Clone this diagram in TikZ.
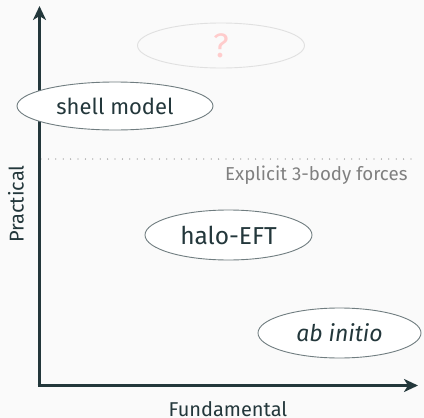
\documentclass[tikz,border=0pt]{standalone}
\usepackage{fontspec}
\setmainfont{Fira Sans}
\usetikzlibrary{arrows.meta,shapes.geometric}
\definecolor{mDarkTeal}{HTML}{23373B}
\definecolor{mBg}{HTML}{FAFAFA}
\begin{document}
\begin{tikzpicture}[x=1pt,y=-1pt,
  axis/.style={line width=3.6pt,draw=mDarkTeal,-{Stealth[length=14pt,width=13pt,inset=4pt]},line join=miter},
  blob/.style={ellipse,draw=mDarkTeal!65,line width=0.9pt,fill=white,text=mDarkTeal,inner sep=0pt,font=\fontsize{23}{27}\selectfont},
  ghost/.style={ellipse,draw=black!12,line width=0.9pt,text=red!20,inner sep=0pt,font=\fontsize{34}{38}\selectfont},
  lbl/.style={text=mDarkTeal,font=\fontsize{20}{24}\selectfont},
  note/.style={text=black!50,font=\fontsize{18.7}{22}\selectfont}]
\fill[mBg] (0,0) rectangle (424,418);
\useasboundingbox (0,0) rectangle (424,418);
\coordinate (o) at (39.5,385.5);
\coordinate (ytop) at (39.5,6);
\coordinate (xend) at (418,385.5);
\coordinate (dl) at (41,159);
\coordinate (dr) at (412,159);
\draw[dotted,line width=1.3pt,black!45,line cap=round,dash pattern=on 0pt off 7.4pt] (dl) -- (dr);
\node[note,anchor=base east] (n3) at (411,180) {Explicit 3-body forces};
\draw[axis] (o) -- (ytop);
\draw[axis] ([xshift=-1.8pt]o) -- (xend);
\node[ghost,minimum width=167pt,minimum height=45pt] (q) at (221,45.5) {?};
\node[blob,minimum width=196pt,minimum height=48pt,font=\fontsize{22}{27}\selectfont] (sm) at (115,106) {shell model};
\node[blob,minimum width=167pt,minimum height=50pt,font=\fontsize{24.5}{29}\selectfont] (he) at (228.5,235) {halo-EFT};
\node[blob,minimum width=163pt,minimum height=50pt,font=\fontsize{23}{27}\selectfont] (ai) at (339.5,333) {\itshape ab initio};
\node[lbl,rotate=90] (py) at (16,204) {Practical};
\node[lbl,anchor=base] (fx) at (228,416) {Fundamental};
\end{tikzpicture}
\end{document}
